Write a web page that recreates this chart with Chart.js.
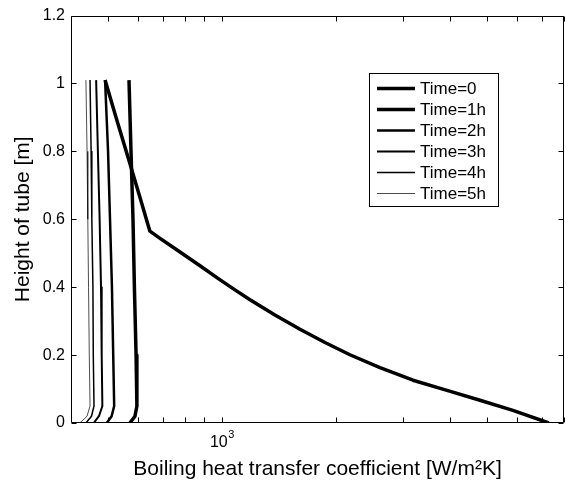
<!DOCTYPE html>
<html><head><meta charset="utf-8">
<script src="https://cdn.jsdelivr.net/npm/chart.js@4/dist/chart.umd.min.js"></script>
<style>html,body{margin:0;padding:0;background:#fff;}</style>
</head><body>
<canvas id="c" width="566" height="483"></canvas>
<script>
// ---- data ----
const seriesLabels = ['Time=0', 'Time=1h', 'Time=2h', 'Time=3h', 'Time=4h', 'Time=5h'];

// Time=0 : coefficient [W/m2K] vs height [m]
const coef0    = [492, 526, 570, 610, 646, 687, 752, 876, 977, 1083, 1187, 1381, 1608, 1872, 2178, 2615, 3196, 3929, 4800, 5865, 7297];
const height0  = [1.01, 0.9, 0.77, 0.66, 0.565, 0.544, 0.514, 0.463, 0.426, 0.392, 0.363, 0.318, 0.276, 0.237, 0.201, 0.163, 0.126, 0.096, 0.067, 0.037, 0];

// later times share these heights
const heightT  = [1.01, 0.8, 0.6, 0.4, 0.2, 0.05, 0.02, 0];
const coef1h   = [569, 576, 583, 588, 594, 597, 590, 572];
const coef2h   = [492, 501, 507, 513, 517, 520, 512, 497];
const coef3h   = [466, 471, 476, 480, 482, 484, 474, 459];
const coef4h   = [449, 452, 454, 457, 458, 460, 453, 438];
const coef5h   = [438, 441, 443, 445, 447, 449, 441, 422];

const yTicks        = [0, 0.2, 0.4, 0.6, 0.8, 1, 1.2];
const xLabelTicks   = [1000];
const xLabelBase    = '10';
const xLabelExp     = '3';
const xMinorTicks   = [500, 600, 700, 800, 900, 2000, 3000, 4000, 5000, 6000, 7000, 8000];

const xMin = 400, xMax = 8000, yMin = 0, yMax = 1.2;
// ----------------------------------------

const pts = (xs, ys) => xs.map((v, i) => ({x: v, y: ys[i]}));
const coefSets = [coef0, coef1h, coef2h, coef3h, coef4h, coef5h];
const heightSets = [height0, heightT, heightT, heightT, heightT, heightT];
const widths = [3.5, 3.5, 2.5, 2, 1.5, 0.7];

const datasets = seriesLabels.map((lab, i) => ({
  label: lab,
  data: pts(coefSets[i], heightSets[i]),
  borderColor: '#000',
  backgroundColor: '#000',
  borderWidth: widths[i],
  pointRadius: 0,
  tension: 0,
  fill: false,
  borderJoinStyle: 'round'
}));

const FONT = "'Liberation Sans', Arial, sans-serif";
const TICK_FONT = 16, LABEL_OFFSET = -3, TICK_PAD = 10;

const framePlugin = {
  id: 'frame',
  afterDatasetsDraw(chart) {
    const {ctx, chartArea: a, scales: {x, y}} = chart;
    ctx.save();
    ctx.strokeStyle = '#000';
    ctx.lineWidth = 1;
    const L = Math.round(a.left) + 0.5, R = Math.round(a.right) - 0.5;
    const T = Math.round(a.top) + 0.5, B = Math.round(a.bottom) - 0.5;
    ctx.beginPath();
    ctx.rect(L, T, R - L, B - T);
    ctx.stroke();
    const tl = 5;
    ctx.beginPath();
    yTicks.forEach(v => {
      const py = Math.round(y.getPixelForValue(v)) + 0.5;
      ctx.moveTo(L, py); ctx.lineTo(L + tl, py);
      ctx.moveTo(R, py); ctx.lineTo(R - tl, py);
    });
    xLabelTicks.concat(xMinorTicks).forEach(v => {
      const px = Math.round(x.getPixelForValue(v)) + 0.5;
      ctx.moveTo(px, B); ctx.lineTo(px, B - tl);
      ctx.moveTo(px, T); ctx.lineTo(px, T + tl);
    });
    ctx.stroke();

    // superscript exponent of the x tick label
    ctx.fillStyle = '#000';
    ctx.font = TICK_FONT + 'px ' + FONT;
    xLabelTicks.forEach(v => {
      const cx = x.getPixelForValue(v) + LABEL_OFFSET;
      const w = ctx.measureText(xLabelBase).width;
      ctx.save();
      ctx.font = '11px ' + FONT;
      ctx.textBaseline = 'top';
      ctx.textAlign = 'left';
      ctx.fillText(xLabelExp, cx + w / 2 + 0.5, a.bottom + TICK_PAD - 4);
      ctx.restore();
    });

    // legend
    const lx0 = 369, ly0 = 73, lw = 129, lh = 133;
    ctx.fillStyle = '#fff';
    ctx.fillRect(lx0, ly0, lw, lh);
    ctx.strokeRect(lx0 + 0.5, ly0 + 0.5, lw, lh);
    ctx.font = '17px ' + FONT;
    ctx.textBaseline = 'middle';
    ctx.fillStyle = '#000';
    chart.data.datasets.forEach((ds, i) => {
      const cy = ly0 + 15.5 + i * 21;
      ctx.beginPath();
      ctx.lineWidth = ds.borderWidth;
      ctx.moveTo(377, cy); ctx.lineTo(415, cy);
      ctx.stroke();
      ctx.fillText(ds.label, 420, cy + 1);
    });
    ctx.restore();
  }
};

new Chart(document.getElementById('c'), {
  type: 'line',
  data: {datasets},
  options: {
    responsive: false,
    animation: false,
    devicePixelRatio: 1,
    layout: {padding: {top: 15, right: 2, left: 0, bottom: 0}},
    plugins: {legend: {display: false}, tooltip: {enabled: false}},
    scales: {
      x: {
        type: 'logarithmic',
        min: xMin, max: xMax,
        afterBuildTicks: s => { s.ticks = xLabelTicks.map(v => ({value: v})); },
        afterFit: s => { s.height = 60; },
        grid: {display: false, drawTicks: false},
        border: {display: false},
        ticks: {
          autoSkip: false, maxRotation: 0, padding: TICK_PAD, color: '#000',
          labelOffset: LABEL_OFFSET,
          font: {family: FONT, size: TICK_FONT},
          callback: v => (xLabelTicks.includes(v) ? xLabelBase : '')
        },
        title: {display: true, text: 'Boiling heat transfer coefficient [W/m²K]', color: '#000',
                font: {family: FONT, size: 21}, padding: {top: 0, bottom: 1}}
      },
      y: {
        type: 'linear',
        min: yMin, max: yMax,
        afterBuildTicks: s => { s.ticks = yTicks.map(v => ({value: v})); },
        afterFit: s => { s.width = 71; },
        grid: {display: false, drawTicks: false},
        border: {display: false},
        ticks: {
          padding: 6, color: '#000',
          font: {family: FONT, size: TICK_FONT},
          callback: v => String(Math.round(v * 10) / 10)
        },
        title: {display: true, text: 'Height of tube [m]', color: '#000',
                font: {family: FONT, size: 21}, padding: {top: 11, bottom: 0}}
      }
    }
  },
  plugins: [framePlugin]
});
</script>
</body></html>
